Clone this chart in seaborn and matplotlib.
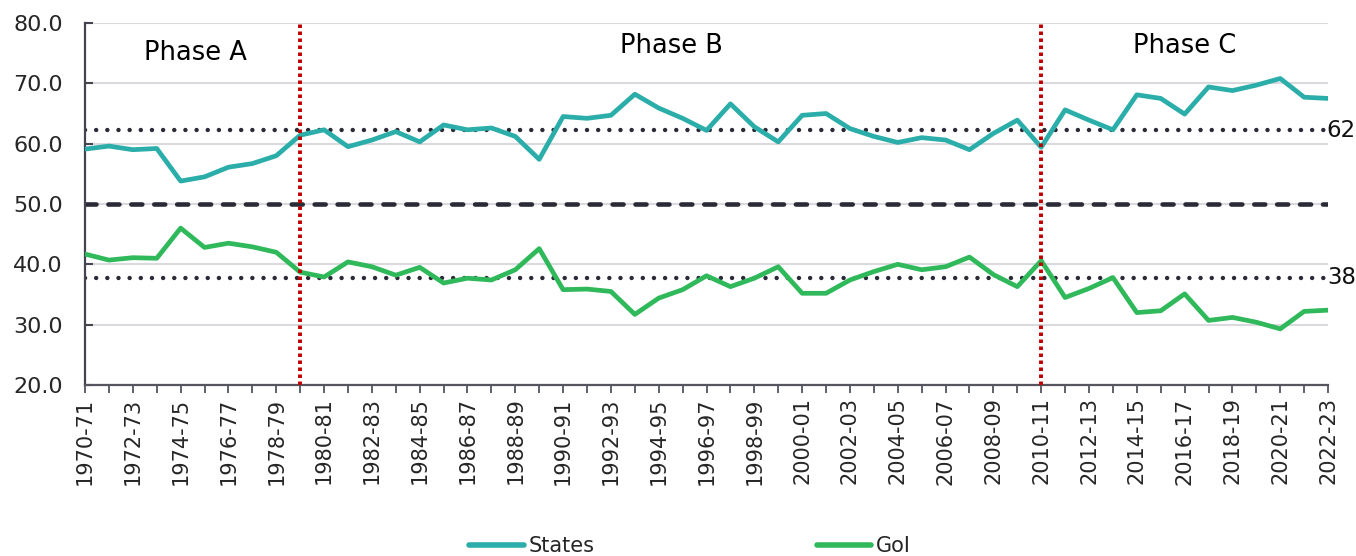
import numpy as np
import pandas as pd
import matplotlib
matplotlib.use('Agg')
import matplotlib.pyplot as plt
from matplotlib.ticker import FormatStrFormatter
from matplotlib.lines import Line2D
import seaborn as sns

# ── Data ─────────────────────────────────────────────────────────────────────
YEARS = [f"{y}-{(y + 1) % 100:02d}" for y in range(1970, 2023)]

STATES = [59.1, 59.6, 59.0, 59.2, 53.8, 54.5, 56.1, 56.7, 58.0, 61.4,
          62.3, 59.5, 60.6, 62.0, 60.3, 63.1, 62.3, 62.6, 61.2, 57.4,
          64.5, 64.2, 64.7, 68.2, 65.9, 64.2, 62.2, 66.6, 62.8, 60.3,
          64.7, 65.0, 62.5, 61.2, 60.2, 61.0, 60.6, 59.0, 61.7, 63.9,
          59.4, 65.6, 63.9, 62.3, 68.1, 67.5, 64.9, 69.4, 68.8, 69.7,
          70.8, 67.7, 67.5]

GOI = [41.7, 40.7, 41.1, 41.0, 46.0, 42.8, 43.5, 42.9, 42.0, 38.7,
       37.9, 40.4, 39.6, 38.2, 39.5, 36.9, 37.7, 37.4, 39.1, 42.6,
       35.8, 35.9, 35.5, 31.7, 34.4, 35.8, 38.1, 36.3, 37.7, 39.6,
       35.2, 35.2, 37.4, 38.8, 40.0, 39.1, 39.6, 41.2, 38.3, 36.3,
       40.6, 34.5, 36.0, 37.8, 32.0, 32.3, 35.1, 30.7, 31.2, 30.4,
       29.3, 32.2, 32.4]

# period averages (drawn as dotted lines, labelled rounded)
REF_VALUES = [62.2, 37.8]
REF_LABELS = ["62", "38"]
MID_LINE = 50
PHASE_BREAKS = ["1979-80", "2010-11"]
PHASE_NAMES = ["Phase A", "Phase B", "Phase C"]
PHASE_X = [4.6, 24.55, 46.0]
PHASE_Y = [75.0, 76.2, 76.2]

COLORS = {"States": "#2BAEA9", "GoI": "#2FB95A"}

# ── Plot ─────────────────────────────────────────────────────────────────────
sns.set_theme(style="white")
plt.rcParams['font.family'] = ['DejaVu Sans']

df = pd.DataFrame({"year": YEARS * 2,
                   "pos": list(range(len(YEARS))) * 2,
                   "share": STATES + GOI,
                   "series": ["States"] * len(YEARS) + ["GoI"] * len(YEARS)})

fig = plt.figure(figsize=(13.56, 5.56), dpi=100)
ax = fig.add_axes([0.0627, 0.3076, 0.9794 - 0.0627, 0.9586 - 0.3076])

pos_of = {y: i for i, y in enumerate(YEARS)}

ax.grid(axis='y', color='#d9d9de', lw=1.5)
ax.set_axisbelow(True)

for v, lab in zip(REF_VALUES, REF_LABELS):
    ax.axhline(v, color='#2b2b38', lw=3.2, linestyle=(0, (0.01, 2.5)),
               dash_capstyle='round', zorder=2)
    ax.text(len(YEARS) - 1 - 0.05, v, lab, fontsize=16.5, color='#111111',
            ha='left', va='center')
ax.axhline(MID_LINE, color='#2b2b38', lw=3.3, linestyle=(0, (2.4, 2.6)),
           dash_capstyle='round', zorder=2)

sns.lineplot(data=df, x="pos", y="share", hue="series", palette=COLORS,
             lw=3.4, ax=ax, legend=False, sort=False, zorder=3,
             solid_joinstyle='round', solid_capstyle='round')

for b in PHASE_BREAKS:
    ax.axvline(pos_of[b], color='#C00000', lw=2.8, linestyle=(0, (0.9, 0.9)), zorder=4)

for name, px, py in zip(PHASE_NAMES, PHASE_X, PHASE_Y):
    ax.text(px, py, name, fontsize=18.5, color='black', ha='center', va='center')

ax.set_xlim(0, len(YEARS) - 1)
ax.set_ylim(20, 80)
ax.set_yticks(np.arange(20, 81, 10))
ax.yaxis.set_major_formatter(FormatStrFormatter('%.1f'))
ax.set_xticks(range(len(YEARS)), minor=True)
ax.set_xticks(range(0, len(YEARS), 2))
ax.set_xticklabels(YEARS[::2], rotation=90)
ax.set_xlabel("")
ax.set_ylabel("")

for s in ['top', 'right']:
    ax.spines[s].set_visible(False)
ax.spines['left'].set_color('#444450')
ax.spines['left'].set_linewidth(1.6)
ax.spines['bottom'].set_color('#555560')
ax.spines['bottom'].set_linewidth(1.6)

ax.tick_params(axis='y', direction='in', length=6, width=1.5, color='#444450',
               labelsize=16, pad=16, left=True)
ax.tick_params(axis='x', which='both', direction='out', length=6, width=1.3,
               color='#555560', bottom=True)
ax.tick_params(axis='x', labelsize=15, pad=3)

handles = [Line2D([], [], color=COLORS[k], lw=4, solid_capstyle='round') for k in ["States", "GoI"]]
fig.legend(handles, ["States", "GoI"], loc='center', bbox_to_anchor=(0.509, 0.018),
           ncol=2, frameon=False, fontsize=15, handlelength=2.6, handletextpad=0.25,
           columnspacing=10.65)

fig.savefig("out.png", dpi=100)
